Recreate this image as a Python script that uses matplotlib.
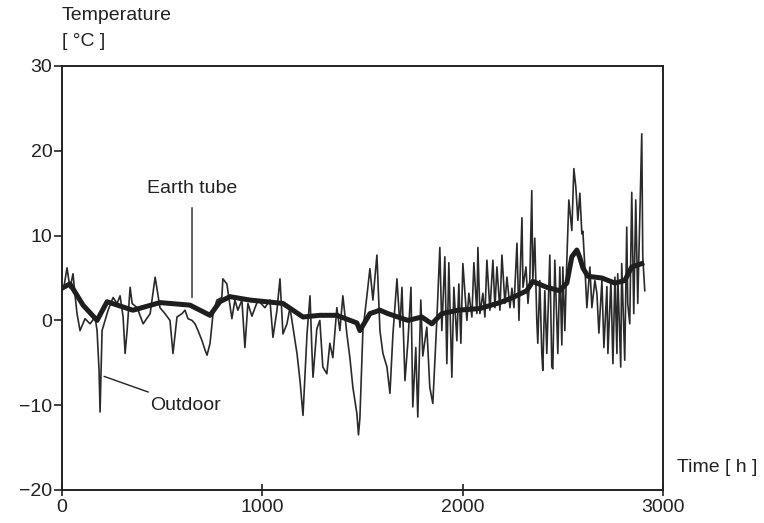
import matplotlib
matplotlib.use('Agg')
import matplotlib.pyplot as plt

plt.rcParams['font.family'] = ['Liberation Sans', 'DejaVu Sans']

# outdoor temperature (hours, degC)
outdoor_h = [0, 10, 25, 40, 55, 65, 75, 90, 115, 140, 165, 175, 185, 190, 200,
             215, 230, 255, 275, 290, 305, 315, 325, 340, 350, 375, 405, 440,
             465, 489, 514, 539, 554, 574, 599, 614, 629, 649, 664, 679, 699,
             714, 724, 739, 754, 773, 798, 803, 823, 838, 848, 863, 878, 898,
             913, 928, 948, 978, 1013, 1038, 1053, 1073, 1088, 1103, 1123,
             1138, 1153, 1173, 1188, 1203, 1223, 1238, 1248, 1253, 1272, 1287,
             1302, 1322, 1337, 1352, 1372, 1387, 1402, 1422, 1437, 1452, 1472,
             1480, 1487, 1502, 1522, 1537, 1552, 1572, 1587, 1602, 1622, 1637,
             1652, 1672, 1687, 1697, 1712, 1727, 1742, 1751, 1766, 1776, 1791,
             1801, 1821, 1836, 1851, 1871, 1886, 1896, 1911, 1921, 1931, 1946,
             1956, 1971, 1981, 1991, 2001, 2021, 2031, 2046, 2056, 2071, 2076,
             2086, 2101, 2111, 2121, 2136, 2151, 2161, 2171, 2186, 2196, 2211,
             2221, 2236, 2246, 2256, 2271, 2281, 2286, 2296, 2301, 2316, 2326,
             2335, 2345, 2350, 2360, 2370, 2375, 2385, 2395, 2400, 2410, 2420,
             2435, 2445, 2450, 2460, 2470, 2475, 2485, 2495, 2500, 2510, 2520,
             2530, 2545, 2555, 2565, 2575, 2585, 2595, 2600, 2610, 2620, 2635,
             2645, 2660, 2670, 2680, 2695, 2705, 2720, 2725, 2740, 2750, 2760,
             2770, 2774, 2789, 2794, 2809, 2819, 2824, 2834, 2844, 2854, 2864,
             2874, 2884, 2894, 2899, 2909]
outdoor_t = [3.5, 4.0, 6.2, 3.8, 5.5, 3.0, 0.8, -1.2, 0.2, -0.4, 0.4, -1.2, -5.9,
             -10.8, -1.2, 0.0, 1.2, 2.7, 2.0, 2.9, 0.4, -3.9, -1.2, 3.9, 2.0,
             1.5, -0.4, 0.8, 5.1, 1.5, 0.8, 0.0, -3.9, 0.4, 0.8, 1.2, 0.2, 0.0,
             -0.4, -1.2, -2.4, -3.5, -4.1, -2.7, 0.8, 2.4, 2.7, 4.9, 4.3, 1.8,
             0.2, 2.4, 1.2, 2.4, -3.2, 2.0, 0.5, 2.4, 1.5, 2.4, -2.0, 1.2, 4.9,
             -1.6, -0.4, 1.5, -0.8, -3.9, -7.1, -11.2, -1.6, 2.9, -3.9, -6.7,
             -1.0, 0.0, -5.5, -6.3, -2.7, -4.4, 1.5, -1.2, 2.9, -1.6, -4.4,
             -7.9, -11.0, -13.5, -11.5, -1.2, 2.9, 6.1, 2.4, 7.7, -1.2, -3.9,
             -5.5, -8.6, -1.6, 4.9, -0.8, 3.9, -7.1, -2.4, 3.9, -10.2, -3.2,
             -11.4, 2.4, -4.2, -0.8, -7.9, -9.8, 0.0, 8.6, -1.2, 7.5, -5.1, 6.8,
             -6.7, 3.9, -2.4, 4.3, -2.7, 6.7, 0.0, 3.2, 0.4, 6.8, 0.8, 8.6, 0.8,
             3.2, 0.4, 7.1, 1.2, 7.1, 1.5, 6.3, 1.2, 7.7, 2.0, 5.1, 1.5, 3.8,
             1.5, 9.1, 0.0, 4.7, 12.1, 3.9, 6.3, 2.0, 4.7, 15.3, 4.7, 9.7, 0.0,
             -2.7, 4.7, -3.9, -5.9, 3.5, -3.9, 7.7, -5.5, -5.7, 7.1, 0.0, -3.9,
             6.3, -2.9, 6.3, -1.2, 7.1, 14.2, 10.6, 17.9, 15.7, 11.8, 15.0,
             10.2, 10.5, 6.3, 1.5, 6.3, 1.5, 4.7, 3.2, -1.5, 4.7, -3.2, 4.0,
             -3.9, 4.7, -5.1, 5.1, -3.9, 5.5, -5.5, 6.7, -4.7, 11.0, 2.0, -0.4,
             15.1, 0.8, 14.2, 2.0, 12.1, 22.0, 7.5, 3.5]

# air leaving the earth tube
tube_h = [0, 40, 105, 175, 225, 354, 489, 639, 739, 788, 838, 938, 1103, 1203,
          1287, 1372, 1472, 1487, 1537, 1587, 1627, 1727, 1796, 1846, 1896,
          1976, 2086, 2186, 2250, 2320, 2350, 2420, 2485, 2520, 2545, 2570,
          2585, 2600, 2625, 2695, 2760, 2809, 2844, 2894]
tube_t = [3.8, 4.3, 1.8, 0.0, 2.2, 1.2, 2.1, 1.8, 0.6, 2.2, 2.8, 2.4, 2.0, 0.4,
          0.6, 0.6, -0.3, -1.2, 0.8, 1.2, 0.8, 0.0, 0.4, -0.4, 0.8, 1.2, 1.4,
          2.1, 2.7, 3.5, 4.6, 3.9, 3.5, 4.4, 7.5, 8.3, 7.4, 6.2, 5.2, 5.0, 4.4,
          4.7, 6.3, 6.7]

fig = plt.figure(figsize=(7.64, 5.23), dpi=100)
ax = fig.add_axes([62 / 764, 1 - 490 / 523, 601 / 764, 424 / 523])

ax.plot(outdoor_h, outdoor_t, color='#2a2a2a', lw=1.2)
ax.plot(tube_h, tube_t, color='#1e1e1e', lw=3.6, solid_joinstyle='round')

ax.set_xlim(0, 3000)
ax.set_ylim(-20, 30)
ax.set_xticks([0, 1000, 2000, 3000])
ax.set_yticks([-20, -10, 0, 10, 20, 30])
ax.set_yticklabels(['\u221220', '\u221210', '0', '10', '20', '30'])
ax.tick_params(axis='y', direction='out', length=6, width=1.2, labelsize=14,
               pad=1, colors='#222222')
ax.tick_params(axis='x', direction='inout', length=9, width=1.2, labelsize=14,
               pad=2, colors='#222222')
for s in ax.spines.values():
    s.set_linewidth(1.4)
    s.set_color('#222222')

fig.text(62 / 764, 1 - 15 / 523, 'Temperature', fontsize=14, va='center',
         ha='left', color='#222222')
fig.text(62 / 764, 1 - 42 / 523, '[ \u00b0C ]', fontsize=14, va='center',
         ha='left', color='#222222')
fig.text(757 / 764, 1 - 468 / 523, 'Time [ h ]', fontsize=14, va='center',
         ha='right', color='#222222')

ax.annotate('Earth tube', xy=(649, 2.7), xytext=(649, 15.6), fontsize=14,
            ha='center', va='center', color='#222222',
            arrowprops=dict(arrowstyle='-', color='#222222', lw=1.0,
                            shrinkA=6, shrinkB=0))
ax.annotate('Outdoor', xy=(210, -6.6), xytext=(439, -10.0), fontsize=14,
            ha='left', va='center', color='#222222',
            arrowprops=dict(arrowstyle='-', color='#222222', lw=1.0,
                            shrinkA=4, shrinkB=0))

fig.savefig('out.png', dpi=100, facecolor='white')
